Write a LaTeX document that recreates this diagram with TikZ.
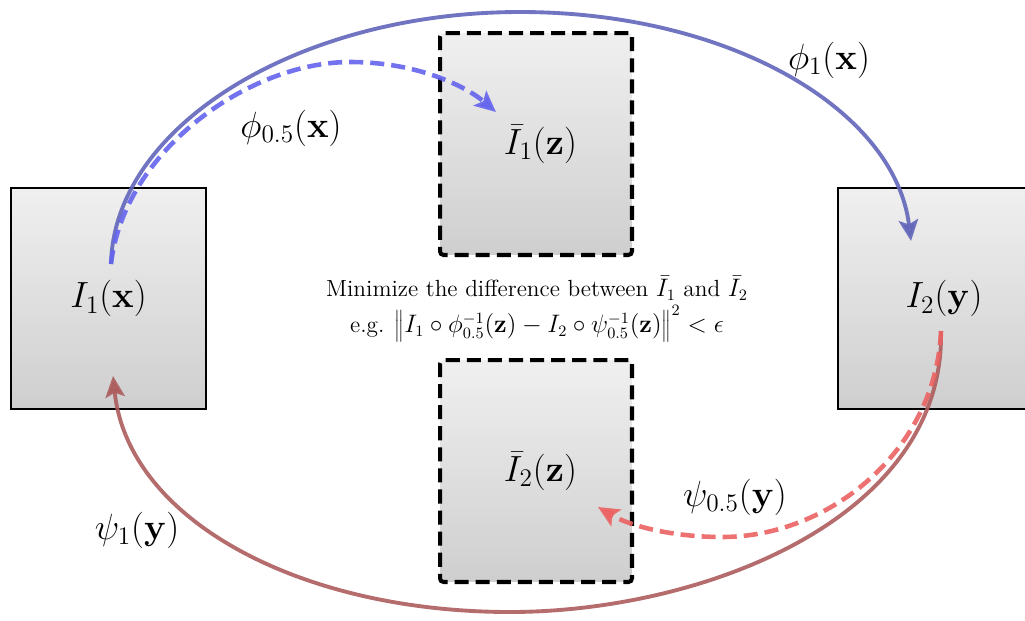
\documentclass[tikz,border=0pt]{standalone}
\usetikzlibrary{arrows.meta}
\definecolor{bsolid}{RGB}{98,102,186}
\definecolor{bdash}{RGB}{100,100,238}
\definecolor{rsolid}{RGB}{172,92,92}
\definecolor{rdash}{RGB}{236,98,98}
\begin{document}
\begin{tikzpicture}[x=0.02cm,y=-0.02cm,
  imgbox/.style={draw=black, line width=0.8pt, top color=gray!12, bottom color=gray!38,
    minimum height=4.42cm, inner sep=0pt, font=\fontsize{21}{25}\selectfont},
  avgbox/.style={draw=black, line width=2.3pt, dash pattern=on 8pt off 4pt,
    top color=gray!12, bottom color=gray!38, rounded corners=2pt,
    minimum width=3.84cm, minimum height=4.44cm, inner sep=0pt, font=\fontsize{21}{25}\selectfont},
  lbl/.style={font=\fontsize{21}{25}\selectfont, inner sep=0pt},
  mid/.style={font=\fontsize{13.3}{17}\selectfont, align=center, inner sep=0pt},
  tip/.style={-{Stealth[length=12pt,width=11pt,inset=2.5pt]}},
  solidarc/.style={tip, line width=2.2pt, opacity=0.9},
  dasharc/.style={tip, line width=2.6pt, dash pattern=on 8pt off 4pt, opacity=0.9}
]
\useasboundingbox (0,0) rectangle (1025,620);

% image boxes (text inside)
\node[imgbox, minimum width=3.9cm] (I1) at (108.5,298.5) {$I_1(\mathbf{x})$};
\node[imgbox, minimum width=4.24cm] (I2) at (944,298.5) {$I_2(\mathbf{y})$};
\node[avgbox] (A1) at (536,144) {\hspace*{5pt}$\bar{I}_1(\mathbf{z})$};
\node[avgbox] (A2) at (536,471) {\hspace*{5pt}$\bar{I}_2(\mathbf{z})$};

% middle text
\node[mid] (txt) at (537,309) {Minimize the difference between $\bar{I}_1$ and $\bar{I}_2$\\[2pt]
  e.g. $\left\|\rule[-5pt]{0pt}{16.5pt}I_1\circ\phi_{0.5}^{-1}(\mathbf{z})-I_2\circ\psi_{0.5}^{-1}(\mathbf{z})\right\|^2<\epsilon$};

% connector end points
\coordinate (s1) at (111,264);
\coordinate (e1) at (911,241);
\coordinate (e05) at (496,112);
\coordinate (s2) at (941,331);
\coordinate (e2) at (113,376);
\coordinate (e205) at (598,507);

% phi_1
\draw[solidarc, bsolid] (s1) .. controls (114,125) and (300,12) .. (520,12)
  .. controls (730,12) and (895,110) .. (e1);
% phi_0.5
\draw[dasharc, bdash] (s1) .. controls (124,150) and (250,62) .. (350,62)
  .. controls (420,62) and (468,88) .. (e05);
% psi_1
\draw[solidarc, rsolid] (s2) .. controls (945,520) and (700,612) .. (510,612)
  .. controls (300,612) and (128,520) .. (e2);
% psi_0.5
\draw[dasharc, rdash] (s2) .. controls (936,450) and (830,537) .. (722,537)
  .. controls (670,537) and (628,525) .. (e205);

% arc labels
\node[lbl] (lp1) at (829,60) {$\phi_1(\mathbf{x})$};
\node[lbl] (lp05) at (291,128) {$\phi_{0.5}(\mathbf{x})$};
\node[lbl] (lq05) at (735,497) {$\psi_{0.5}(\mathbf{y})$};
\node[lbl] (lq1) at (137,530) {$\psi_1(\mathbf{y})$};
\end{tikzpicture}
\end{document}
